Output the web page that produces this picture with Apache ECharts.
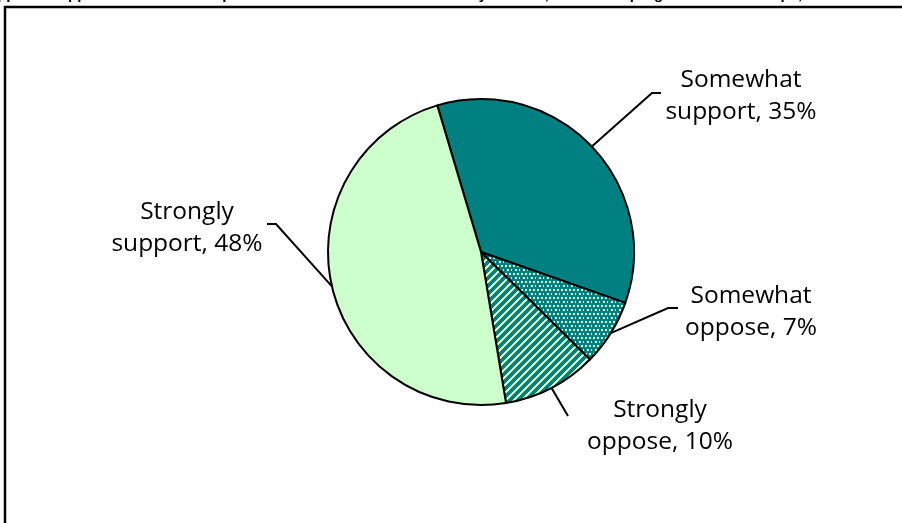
<!DOCTYPE html>
<html>
<head>
<meta charset="utf-8">
<script src="https://cdn.jsdelivr.net/npm/echarts@6/dist/echarts.min.js"></script>
<style>
html,body{margin:0;padding:0;background:#fff;}
#chart{width:902px;height:523px;}
</style>
</head>
<body>
<div id="chart"></div>
<script>
// ---- data ----
var categories = ['Somewhat support', 'Somewhat oppose', 'Strongly oppose', 'Strongly support'];
var percents = [35, 7, 10, 48];
var titleText = 'Do you support or oppose the federal Corporation for National and Community Service, which has program in AmeriCorps, and the Senior Service?';

// ---- layout (label anchors and leader-line bends, pixels) ----
var labelAnchors = [[741, 96], [751, 312], [660, 426], [187, 228]];
var labelBends = [[[652, 93], [661, 93]], [[668, 308], [678, 308]], [[568, 416]], [[276, 224], [267, 224]]];

var TEAL = '#008080', LIGHT = '#CCFFCC';

function makeStripes() {
  var c = document.createElement('canvas');
  c.width = 8; c.height = 8;
  var ctx = c.getContext('2d');
  ctx.fillStyle = TEAL; ctx.fillRect(0, 0, 8, 8);
  ctx.fillStyle = LIGHT;
  for (var x = 0; x < 8; x++) for (var y = 0; y < 8; y++) {
    var m = (x + y) % 8;
    if (m === 0 || m === 1 || m === 2) ctx.fillRect(x, y, 1, 1);
  }
  return c;
}
function makeDots() {
  var c = document.createElement('canvas');
  c.width = 8; c.height = 8;
  var ctx = c.getContext('2d');
  ctx.fillStyle = TEAL; ctx.fillRect(0, 0, 8, 8);
  ctx.fillStyle = LIGHT;
  [[1, 1], [5, 1], [3, 5], [7, 5]].forEach(function (p) { ctx.fillRect(p[0], p[1], 2, 2); });
  return c;
}

var fills = [TEAL, {image: makeDots(), repeat: 'repeat'}, {image: makeStripes(), repeat: 'repeat'}, LIGHT];

var CX = 481, CY = 252, R = 153, START = 106.6;
var total = percents.reduce(function (a, b) { return a + b; }, 0);
function edgePoint(i) {
  var before = 0;
  for (var k = 0; k < i; k++) before += percents[k];
  var mid = START - (before + percents[i] / 2) / total * 360;
  var a = mid * Math.PI / 180;
  return [CX + R * Math.cos(a), CY - R * Math.sin(a)];
}

var chart = echarts.init(document.getElementById('chart'), null, {renderer: 'canvas'});
chart.setOption({
  animation: false,
  backgroundColor: '#fff',
  graphic: [
    {type: 'rect', shape: {x: 5, y: 7, width: 1200, height: 1200}, style: {fill: 'none', stroke: '#000', lineWidth: 2.5}, z: 0},
    {type: 'text', x: 451, y: 2.5, style: {text: titleText, font: 'bold 15px "Liberation Sans", Arial', fill: '#000', align: 'center', verticalAlign: 'bottom'}, z: 1}
  ],
  series: [{
    type: 'pie',
    center: [CX, CY],
    radius: R,
    startAngle: START,
    clockwise: true,
    avoidLabelOverlap: false,
    data: categories.map(function (n, i) {
      return {name: n, value: percents[i], itemStyle: {color: fills[i]}};
    }),
    itemStyle: {borderColor: '#000', borderWidth: 2},
    label: {
      show: true,
      position: 'outside',
      formatter: function (p) {
        var parts = p.name.split(' ');
        return parts[0] + '\n' + parts.slice(1).join(' ') + ', ' + p.value + '%';
      },
      fontFamily: '"Open Sans", sans-serif',
      fontSize: 24.5,
      lineHeight: 32,
      color: '#000',
      align: 'center'
    },
    labelLine: {show: true, lineStyle: {color: '#000', width: 2}, smooth: false},
    labelLayout: function (params) {
      var i = params.dataIndex;
      var pts = [edgePoint(i)].concat(labelBends[i]);
      return {
        x: labelAnchors[i][0],
        y: labelAnchors[i][1],
        align: 'center',
        verticalAlign: 'middle',
        labelLinePoints: pts
      };
    },
    emphasis: {disabled: true}
  }]
});
</script>
</body>
</html>
